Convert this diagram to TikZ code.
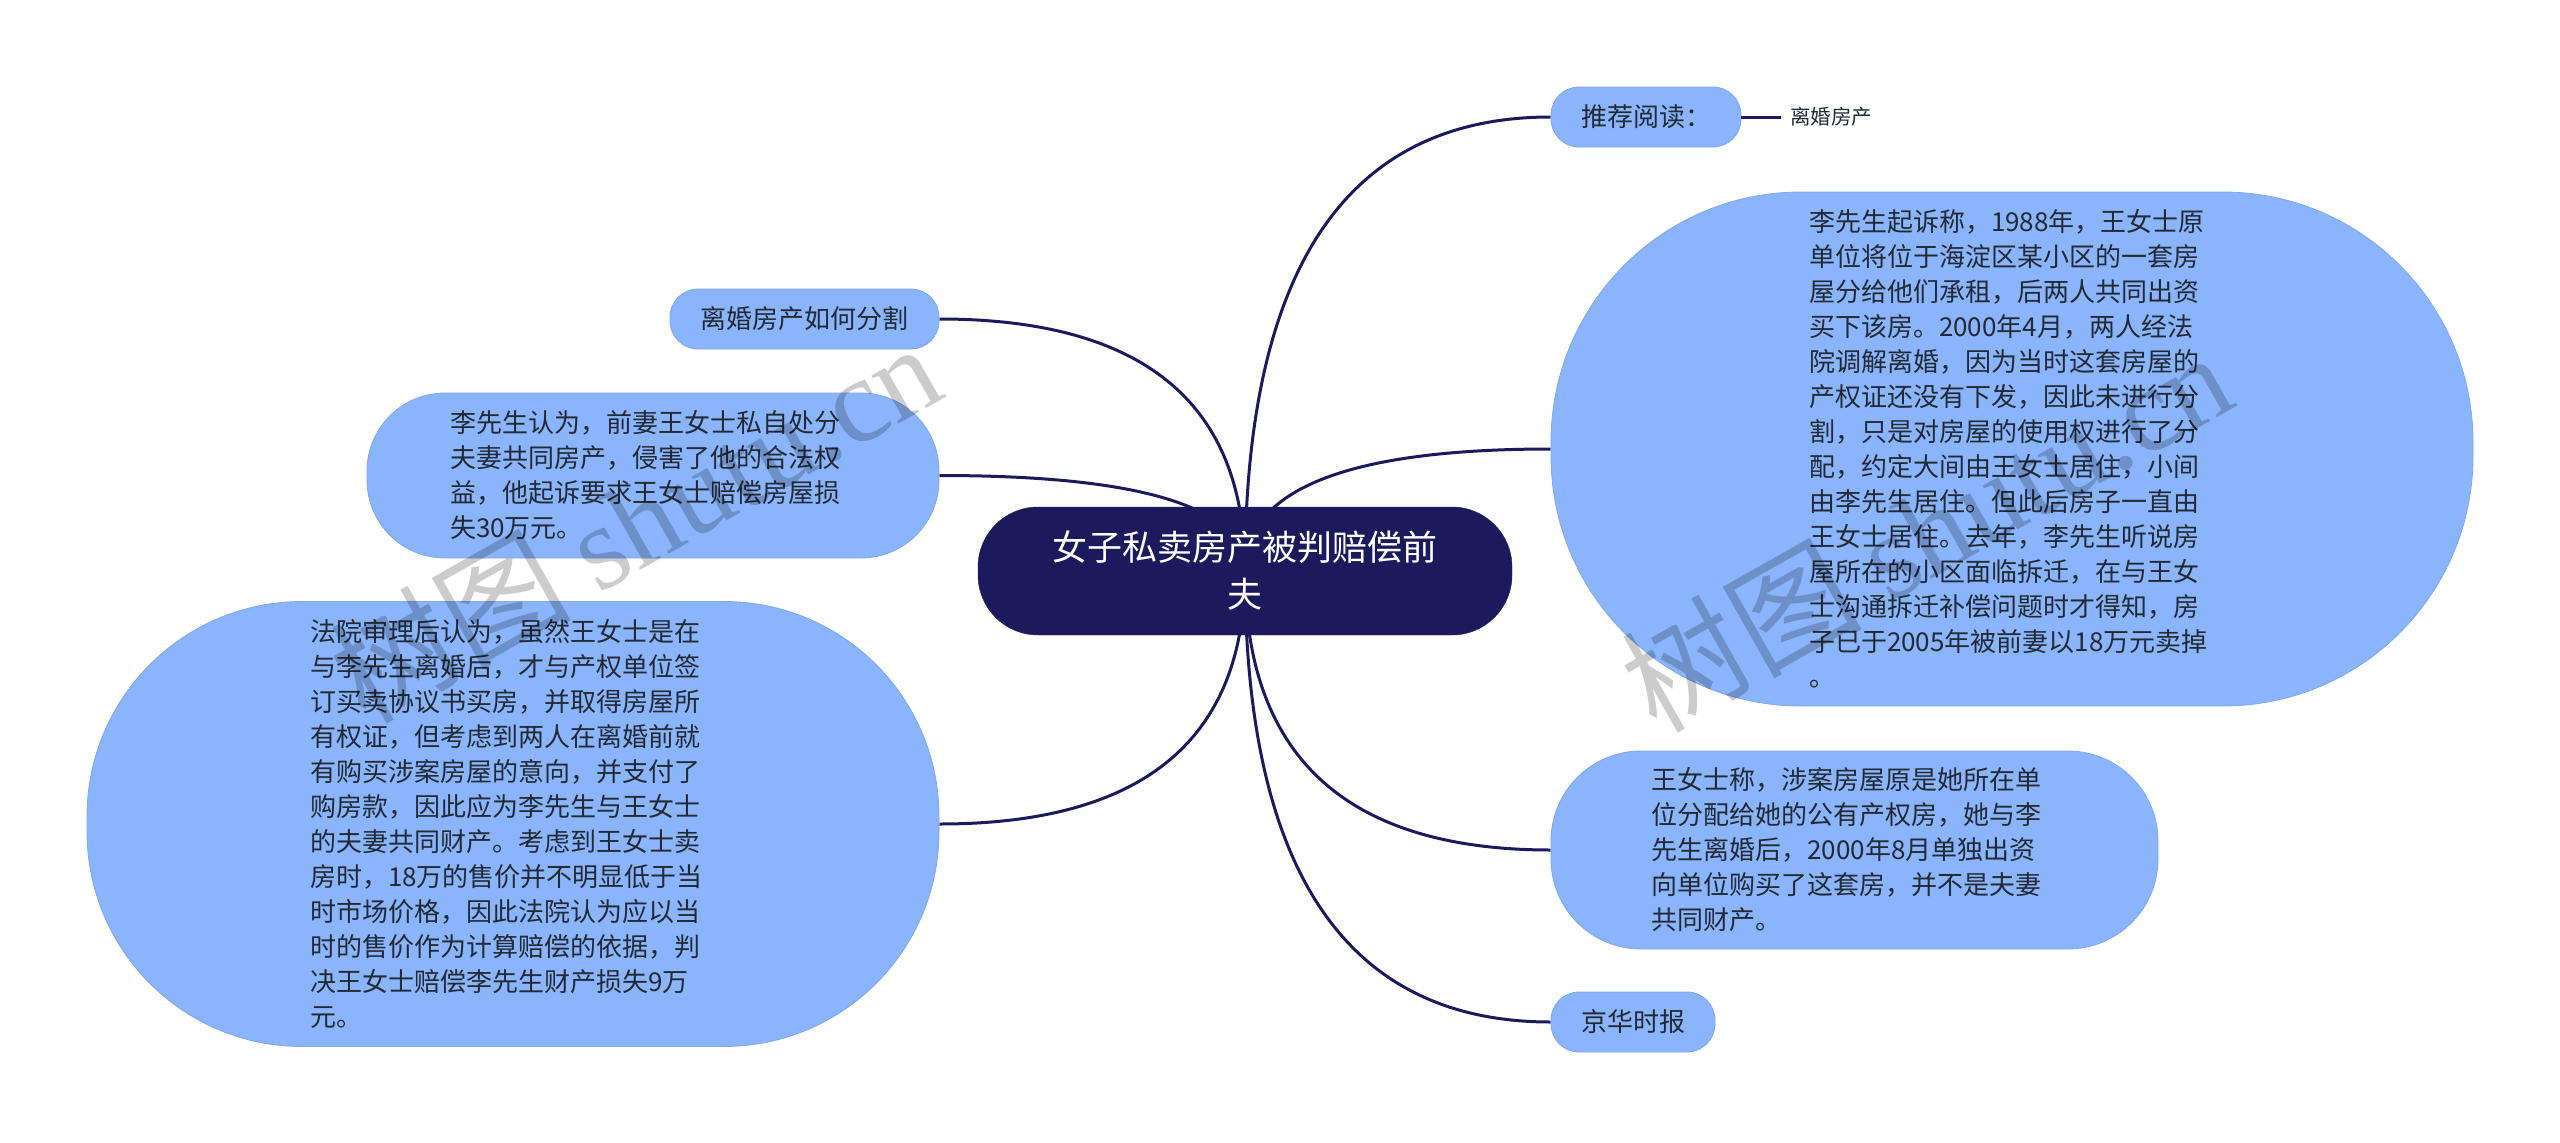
\documentclass[tikz,border=0pt]{standalone}
\usepackage{fontspec}
\usetikzlibrary{calc}
\setmainfont{Noto Sans CJK SC}
\newfontfamily\wmlatin{Liberation Serif}
\definecolor{nodeblue}{HTML}{8AB4FB}
\definecolor{nodeedge}{HTML}{7FA8EC}
\definecolor{rootnavy}{HTML}{1B1A5C}
\definecolor{inktext}{HTML}{222A35}
\pgfdeclarelayer{bg}
\pgfsetlayers{bg,main}
\newcommand{\mapcurve}[1]{\draw[link] (root.center) .. controls ($(root.center)!0.667!(root.center |- #1)$) and ($(#1)!0.667!(root.center |- #1)$) .. (#1);}
\tikzset{
  x=1pt,y=-1pt,
  leaf/.style={draw=nodeedge,line width=0.8pt,fill=nodeblue,text=inktext,rectangle,inner sep=0pt,font=\fontsize{26}{35}\selectfont},
  para/.style={leaf,align=left,text width=406pt},
  rootbox/.style={draw=rootnavy,fill=rootnavy,text=white,rectangle,rounded corners=60pt,inner sep=0pt,align=center,minimum width=534pt,minimum height=128pt,font=\fontsize{35}{47}\selectfont},
  plain/.style={text=inktext,inner xsep=9pt,inner ysep=0pt,font=\fontsize{20.5}{26}\selectfont},
  link/.style={draw=rootnavy,line width=3pt},
  wm/.style={text=black,opacity=0.2,rotate=29.5,inner sep=0pt,font=\fontsize{120}{120}\selectfont}
}
\begin{document}
\begin{tikzpicture}
\useasboundingbox (0,0) rectangle (2560,1143);
\node[rootbox] (root) at (1245,571) {女子私卖房产被判赔偿前\\夫};
\node[leaf,rounded corners=28pt,minimum width=190pt,minimum height=60pt] (tuijian) at (1646,117) {推荐阅读：};
\node[plain,anchor=west] (lihun) at (1781,117) {离婚房产};
\node[para,rounded corners=250pt,minimum width=922pt,minimum height=514pt] (qisu) at (2012,449) {李先生起诉称，1988年，王女士原\\单位将位于海淀区某小区的一套房\\屋分给他们承租，后两人共同出资\\买下该房。2000年4月，两人经法\\院调解离婚，因为当时这套房屋的\\产权证还没有下发，因此未进行分\\割，只是对房屋的使用权进行了分\\配，约定大间由王女士居住，小间\\由李先生居住。但此后房子一直由\\王女士居住。去年，李先生听说房\\屋所在的小区面临拆迁，在与王女\\士沟通拆迁补偿问题时才得知，房\\子已于2005年被前妻以18万元卖掉\\。};
\node[para,rounded corners=90pt,minimum width=607pt,minimum height=198pt] (wang) at (1854.5,850) {王女士称，涉案房屋原是她所在单\\位分配给她的公有产权房，她与李\\先生离婚后，2000年8月单独出资\\向单位购买了这套房，并不是夫妻\\共同财产。};
\node[leaf,rounded corners=28pt,minimum width=164pt,minimum height=60pt] (jinghua) at (1633,1022) {京华时报};
\node[leaf,rounded corners=28pt,minimum width=269pt,minimum height=60pt] (fenge) at (804.5,319) {离婚房产如何分割};
\node[para,rounded corners=78pt,minimum width=572pt,minimum height=165pt] (renwei) at (653,475.5) {李先生认为，前妻王女士私自处分\\夫妻共同房产，侵害了他的合法权\\益，他起诉要求王女士赔偿房屋损\\失30万元。};
\node[para,rounded corners=215pt,minimum width=852pt,minimum height=445pt] (fayuan) at (513,824) {法院审理后认为，虽然王女士是在\\与李先生离婚后，才与产权单位签\\订买卖协议书买房，并取得房屋所\\有权证，但考虑到两人在离婚前就\\有购买涉案房屋的意向，并支付了\\购房款，因此应为李先生与王女士\\的夫妻共同财产。考虑到王女士卖\\房时，18万的售价并不明显低于当\\时市场价格，因此法院认为应以当\\时的售价作为计算赔偿的依据，判\\决王女士赔偿李先生财产损失9万\\元。};
\begin{pgfonlayer}{bg}
\mapcurve{tuijian.west}
\mapcurve{qisu.west}
\mapcurve{wang.west}
\mapcurve{jinghua.west}
\mapcurve{fenge.east}
\mapcurve{renwei.east}
\mapcurve{fayuan.east}
\end{pgfonlayer}
\draw[link] (tuijian.east) -- (lihun.west);
\node[wm] (wmleft) at (635,521) {树图 {\wmlatin shutu.cn}};
\node[wm] (wmright) at (1926,530) {树图 {\wmlatin shutu.cn}};
\end{tikzpicture}
\end{document}
